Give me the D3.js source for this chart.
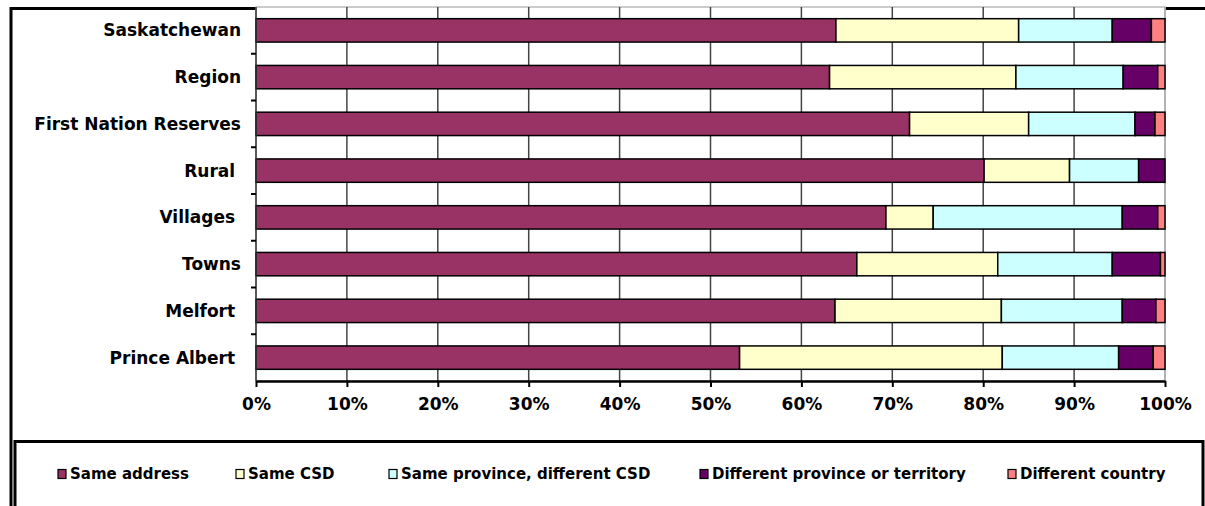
<!DOCTYPE html>
<html>
<head>
<meta charset="utf-8">
<script src="https://cdn.jsdelivr.net/npm/d3@7"></script>
<style>
  body { margin: 0; background: #fff; }
  text { font-family: "DejaVu Sans", sans-serif; font-weight: bold; fill: #000; }
</style>
</head>
<body>
<div id="chart"></div>
<script>
// categories, top to bottom
const places = ['Saskatchewan', 'Region', 'First Nation Reserves', 'Rural ', 'Villages ', 'Towns', 'Melfort ', 'Prince Albert '];
const seriesNames = ['Same address', 'Same CSD', 'Same province, different CSD', 'Different province or territory', 'Different country'];
const seriesColors = ['#993366', '#ffffcc', '#ccffff', '#660066', '#ff8080'];

// percent of population, one array per series (same order as places)
const sameAddress = [63.8, 63.1, 71.9, 80.1, 69.3, 66.1, 63.7, 53.2];
const sameCSD = [20.1, 20.5, 13.1, 9.4, 5.2, 15.5, 18.3, 28.9];
const sameProvince = [10.3, 11.8, 11.7, 7.6, 20.8, 12.6, 13.3, 12.8];
const diffProvince = [4.3, 3.8, 2.2, 2.9, 3.9, 5.3, 3.7, 3.8];
const diffCountry = [1.5, 0.8, 1.1, 0.0, 0.8, 0.5, 1.0, 1.3];

const xTicks = [0, 0.1, 0.2, 0.3, 0.4, 0.5, 0.6, 0.7, 0.8, 0.9, 1];

const width = 1205, height = 506;
const plot = { left: 256, right: 1165, top: 7, bottom: 381 };

const svg = d3.select('#chart').append('svg')
    .attr('width', width)
    .attr('height', height);

// outer chart frame (left + top edge, partly hidden by plot area)
svg.append('path')
    .attr('d', `M11,506 V8.5 H1205`)
    .attr('fill', 'none')
    .attr('stroke', '#000')
    .attr('stroke-width', 3);

const x = d3.scaleLinear().domain([0, 1]).range([plot.left, plot.right]);
const y = d3.scaleBand().domain(places).range([plot.top, plot.bottom])
    .paddingInner(0.5).paddingOuter(0.25);

// plot background
svg.append('rect')
    .attr('x', plot.left)
    .attr('y', plot.top)
    .attr('width', plot.right - plot.left)
    .attr('height', plot.bottom - plot.top)
    .attr('fill', '#fff')
    .attr('stroke', '#bbb')
    .attr('stroke-width', 1.5);

// vertical gridlines
svg.append('g').selectAll('line')
    .data(xTicks.slice(1))
    .enter().append('line')
    .attr('x1', d => x(d))
    .attr('x2', d => x(d))
    .attr('y1', plot.top)
    .attr('y2', plot.bottom)
    .attr('stroke', d => d === 1 ? '#aaa' : '#444')
    .attr('stroke-width', 1.5);

// stack the data
const rows = places.map((p, i) => ({
    place: p,
    values: [sameAddress[i], sameCSD[i], sameProvince[i], diffProvince[i], diffCountry[i]]
}));
const stacked = [];
rows.forEach(r => {
    const total = d3.sum(r.values);
    let acc = 0;
    r.values.forEach((v, k) => {
        stacked.push({ place: r.place, k: k, x0: acc / total, x1: (acc + v) / total });
        acc += v;
    });
});

svg.append('g').selectAll('rect')
    .data(stacked.filter(d => d.x1 > d.x0))
    .enter().append('rect')
    .attr('x', d => x(d.x0))
    .attr('y', d => y(d.place))
    .attr('width', d => x(d.x1) - x(d.x0))
    .attr('height', y.bandwidth())
    .attr('fill', d => seriesColors[d.k])
    .attr('stroke', '#000')
    .attr('stroke-width', 1.5);

// y axis: line with ticks between categories
const yAxis = svg.append('g');
yAxis.append('line')
    .attr('x1', plot.left).attr('x2', plot.left)
    .attr('y1', plot.top).attr('y2', plot.bottom)
    .attr('stroke', '#333').attr('stroke-width', 1.5);
yAxis.selectAll('.tick')
    .data(d3.range(1, places.length))
    .enter().append('line')
    .attr('x1', plot.left - 5).attr('x2', plot.left)
    .attr('y1', i => plot.top + i * y.step())
    .attr('y2', i => plot.top + i * y.step())
    .attr('stroke', '#000').attr('stroke-width', 2);
yAxis.selectAll('text')
    .data(places)
    .enter().append('text')
    .attr('x', 241)
    .attr('y', d => y(d) + y.bandwidth() / 2)
    .attr('dy', '0.36em')
    .attr('text-anchor', 'end')
    .style('font-size', '17px')
    .style('white-space', 'pre')
    .text(d => d);

// x axis
const xAxis = svg.append('g')
    .attr('transform', `translate(0,${plot.bottom})`)
    .call(d3.axisBottom(x).tickValues(xTicks).tickFormat(d3.format('.0%')).tickSize(6).tickSizeOuter(0));
xAxis.select('.domain').attr('stroke', '#000').attr('stroke-width', 2.5);
xAxis.selectAll('.tick line').attr('stroke', '#000').attr('stroke-width', 2);
xAxis.selectAll('.tick text')
    .attr('y', 17)
    .style('font-family', '"DejaVu Sans", sans-serif')
    .style('font-weight', 'bold')
    .style('font-size', '17px')
    .attr('fill', '#000');

// legend box
svg.append('path')
    .attr('d', 'M15,506 V441.5 H1203 V506')
    .attr('fill', 'none')
    .attr('stroke', '#000')
    .attr('stroke-width', 3);

const legendX = [58, 236, 389, 700, 1008];
const legendY = 474;
const legend = svg.append('g').selectAll('g')
    .data(seriesNames)
    .enter().append('g')
    .attr('transform', (d, i) => `translate(${legendX[i]},${legendY})`);
legend.append('rect')
    .attr('x', 0).attr('y', -4.5)
    .attr('width', 8).attr('height', 9)
    .attr('fill', (d, i) => seriesColors[i])
    .attr('stroke', '#000')
    .attr('stroke-width', 1.2);
legend.append('text')
    .attr('x', 12)
    .attr('dy', '0.36em')
    .style('font-size', '15px')
    .text(d => d);
</script>
</body>
</html>
